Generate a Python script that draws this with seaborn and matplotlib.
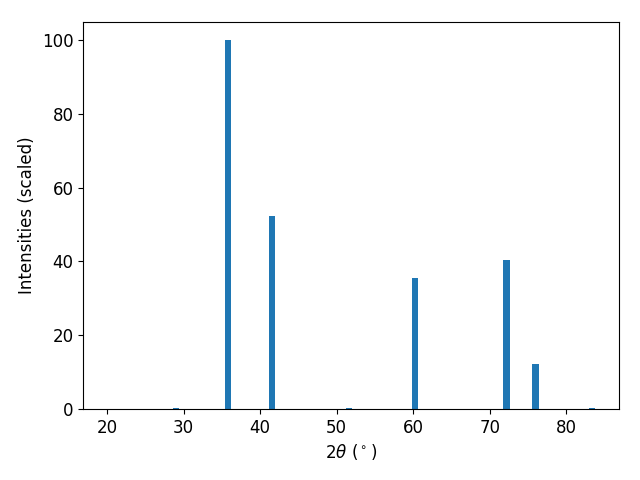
import numpy as np
import pandas as pd
import seaborn as sns
import matplotlib
matplotlib.use("Agg")
import matplotlib.pyplot as plt

# peak positions (2theta, degrees) and scaled intensities
two_theta = [29.0, 35.8, 41.6, 51.6, 60.2, 72.2, 76.0, 83.4]
intensity = [0.3, 100.0, 52.4, 0.3, 35.6, 40.5, 12.3, 0.3]

df = pd.DataFrame({"two_theta": two_theta, "intensity": intensity})

plt.rcParams["font.size"] = 12

fig, ax = plt.subplots(figsize=(6.4, 4.8), dpi=100)

# bar width of 0.8 degrees; seaborn scales width by the min spacing in native scale
min_gap = np.min(np.diff(sorted(two_theta)))
sns.barplot(data=df, x="two_theta", y="intensity", native_scale=True,
            width=0.8 / min_gap, color="#1f77b4", saturation=1, ax=ax)

ax.set_xlim(16.86, 86.9)
ax.set_ylim(0, 105)
ax.set_xlabel(r"$2\theta$ ($^\circ$)")
ax.set_ylabel("Intensities (scaled)")

fig.subplots_adjust(left=0.130, right=0.967, top=0.955, bottom=0.148)
fig.savefig("out.png")
